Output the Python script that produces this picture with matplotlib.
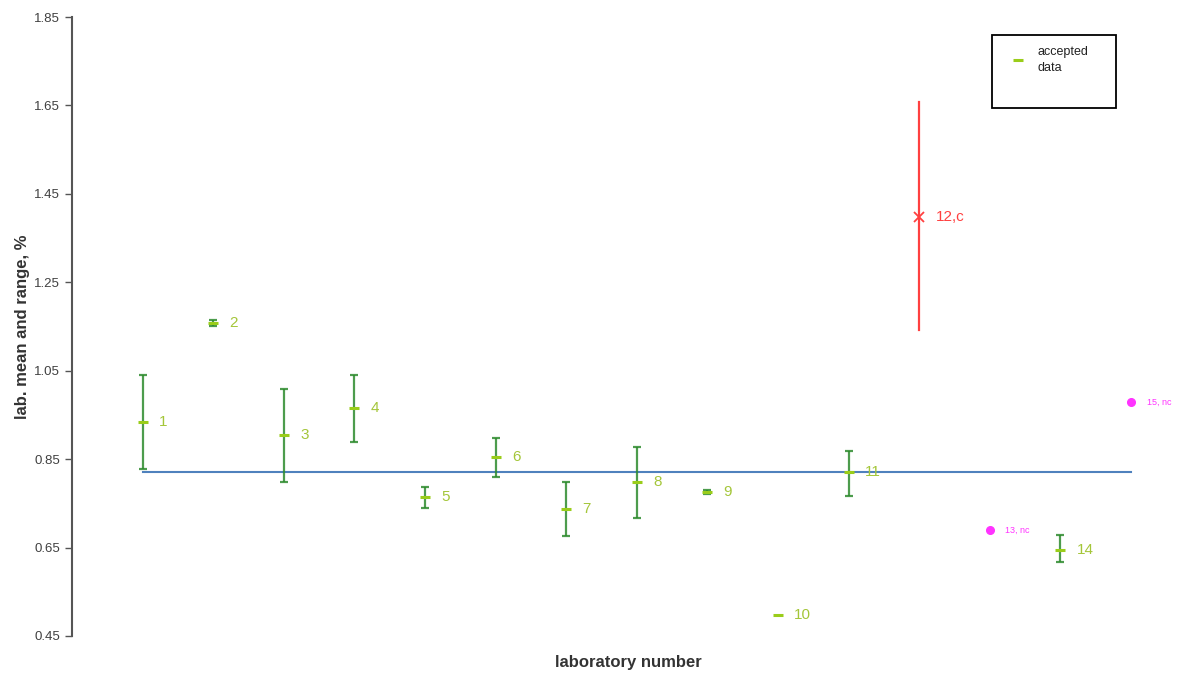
import numpy as np
import matplotlib
matplotlib.use('Agg')
import matplotlib.pyplot as plt
from matplotlib.patches import Rectangle

plt.rcParams['font.family'] = ['Liberation Sans', 'DejaVu Sans']

# ---- data ----
labs = np.arange(1, 16)
means = [0.934, 1.158, 0.905, 0.966, 0.764, 0.855, 0.737, 0.798, 0.776,
         0.497, 0.821, 1.398, 0.690, 0.644, 0.979]
lows = [0.828, 1.151, 0.798, 0.889, 0.739, 0.810, 0.676, 0.717, 0.771,
        0.497, 0.767, 1.142, 0.690, 0.617, 0.979]
highs = [1.040, 1.165, 1.009, 1.040, 0.787, 0.898, 0.798, 0.877, 0.780,
         0.497, 0.868, 1.658, 0.690, 0.678, 0.979]
status = ['ok', 'ok', 'ok', 'ok', 'ok', 'ok', 'ok', 'ok', 'ok',
          'ok', 'ok', 'c', 'nc', 'ok', 'nc']
ref_value = 0.821

yticks = [0.45, 0.65, 0.85, 1.05, 1.25, 1.45, 1.65, 1.85]

GREEN_BAR = '#2e8b2e'
GREEN_MEAN = '#9acd1a'
GREEN_TXT = '#a4c639'
RED = '#ff4040'
MAGENTA = '#ff33ff'
BLUE = '#4f81bd'

fig = plt.figure(figsize=(11.85, 6.78), dpi=100)
ax = fig.add_axes([72 / 1185, 42 / 678, 1108 / 1185, 619 / 678])

# reference line
ax.plot([labs[0], labs[-1]], [ref_value, ref_value], color=BLUE, lw=1.5, zorder=1)

for lab, m, lo, hi, st in zip(labs, means, lows, highs, status):
    if st == 'ok':
        if hi > lo:
            ax.errorbar(lab, m, yerr=[[m - lo], [hi - m]], fmt='none',
                        ecolor=GREEN_BAR, elinewidth=1.6, capsize=3,
                        capthick=1.6, alpha=0.85, zorder=2)
        ax.plot(lab, m, marker='_', ms=7, mew=2.2, color=GREEN_MEAN,
                ls='none', zorder=3)
        ax.text(lab + 0.23, m, str(lab), color=GREEN_TXT, fontsize=11,
                ha='left', va='center')
    elif st == 'c':
        ax.plot([lab, lab], [lo, hi], color=RED, lw=1.6, zorder=2)
        ax.plot(lab, m, marker='x', ms=7, mew=1.3, color=RED, ls='none', zorder=3)
        ax.text(lab + 0.23, m, f'{lab},c', color=RED, fontsize=11,
                ha='left', va='center')
    else:
        ax.plot(lab, m, marker='o', ms=5.5, color=MAGENTA, mec=MAGENTA,
                ls='none', zorder=3)
        ax.text(lab + 0.22, m, f'{lab}, nc', color=MAGENTA, fontsize=6.5,
                ha='left', va='center')

ax.set_xlim(0, 1108 / 70.6)
ax.set_ylim(0.45, 1.85)
ax.set_yticks(yticks)
ax.set_yticklabels([f'{t:.2f}' for t in yticks], color='#404040', fontsize=9.5)
ax.set_xticks([])
for side in ['top', 'right', 'bottom']:
    ax.spines[side].set_visible(False)
ax.spines['left'].set_color('#555555')
ax.spines['left'].set_linewidth(1.5)
ax.tick_params(axis='y', direction='out', length=5, color='#555555', width=1)

ax.set_ylabel('lab. mean and range, %', fontsize=12, fontweight='bold',
              color='#333333', labelpad=3)
fig.text(628 / 1185, 1 - 662 / 678, 'laboratory number', fontsize=12,
         fontweight='bold', color='#333333', ha='center', va='center')

# legend: box drawn separately, entries without frame
fig.patches.append(Rectangle((992 / 1185, 1 - 108 / 678), 124 / 1185, 73 / 678,
                             transform=fig.transFigure, fill=False,
                             edgecolor='black', linewidth=1.3))
h, = ax.plot([], [], marker='_', ms=7, mew=2.2, color=GREEN_MEAN, ls='none')
leg = ax.legend([h], ['accepted\ndata'], loc='upper left',
                bbox_to_anchor=(1010 / 1185, 1 - 46 / 678), bbox_transform=fig.transFigure,
                fontsize=9, frameon=False, borderpad=0,
                handlelength=1.2, handletextpad=1.0, borderaxespad=0)
for t in leg.get_texts():
    t.set_linespacing(1.4)
    t.set_color('#222222')

fig.savefig('out.png', dpi=100)
